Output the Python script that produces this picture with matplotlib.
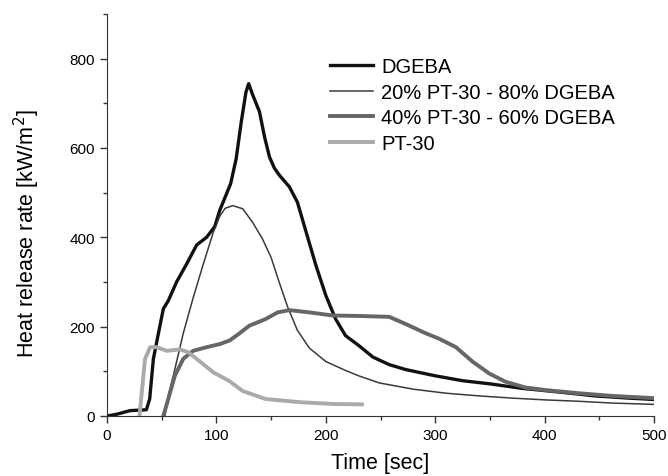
import matplotlib.pyplot as plt
from matplotlib.ticker import MultipleLocator

plt.rcParams['font.family'] = ['Liberation Sans', 'DejaVu Sans']

# DGEBA
t_dgeba = [0, 9, 21, 36, 39, 42.4, 47, 51.5, 56, 63.6, 72.7, 82, 91, 98.5, 103,
           108, 113, 118, 122.7, 127, 129.5, 133, 139.4, 144, 148.5, 153, 157.6,
           166.7, 174, 182, 191, 200, 209, 218, 230, 243, 258, 273, 300, 325,
           350, 379, 416, 446, 477, 500]
hrr_dgeba = [0, 4, 12, 14, 38, 128, 185, 240, 258, 300, 340, 383, 400, 424, 460,
             490, 520, 575, 658, 725, 744, 720, 681, 625, 580, 555, 539,
             513, 479, 412, 337, 270, 217, 180, 158, 132, 115, 104, 90, 79,
             72, 62, 53, 45, 40, 37]

# 20% PT-30 - 80% DGEBA
t_20 = [53, 56, 60.6, 69.7, 78.8, 88, 97, 103, 108, 115, 124, 133, 142, 150,
        157.6, 165, 174, 185, 200, 218, 230, 249, 280, 310, 340, 370.6, 401,
        431, 461.5, 500]
hrr_20 = [0, 45, 90, 185, 265, 340, 410, 447, 465, 471, 464, 434, 397, 355,
          298, 245, 192, 152, 122, 102, 90, 74, 60, 51, 45, 40, 36,
          33, 29, 26]

# 40% PT-30 - 60% DGEBA
t_40 = [51.5, 56, 62, 69.7, 78.8, 91, 103, 112, 120, 130, 145, 156, 166.7, 185,
        206, 230, 258, 273, 291.5, 303.6, 319, 334, 349.5, 364, 382, 401, 431,
        461.5, 500]
hrr_40 = [0, 38, 90, 128, 146, 154, 161, 169, 183, 202, 217, 232, 237, 232,
          225, 224, 222, 206, 185, 173, 154, 122, 95, 77, 64, 58, 51,
          45, 40]

# PT-30
t_pt30 = [29.7, 31.8, 34.8, 39.4, 45.5, 54.5, 66.7, 74, 85, 97, 112, 124, 145,
          176, 206, 233]
hrr_pt30 = [0, 53, 128, 154, 154, 146, 149, 143, 122, 98, 78, 56, 38,
            31, 27, 26]

fig = plt.figure(figsize=(6.68, 4.77), dpi=100)
ax = fig.add_axes([107 / 668, 1 - 417 / 477, 547 / 668, 402 / 477])

ax.plot(t_dgeba, hrr_dgeba, color='#111111', lw=2.4, label='DGEBA')
ax.plot(t_20, hrr_20, color='#3a3a3a', lw=1.1, label='20% PT-30 - 80% DGEBA')
ax.plot(t_40, hrr_40, color='#666666', lw=2.8, label='40% PT-30 - 60% DGEBA')
ax.plot(t_pt30, hrr_pt30, color='#aaaaaa', lw=2.8, label='PT-30')

ax.set_xlim(0, 500)
ax.set_ylim(0, 900)
ax.xaxis.set_major_locator(MultipleLocator(100))
ax.xaxis.set_minor_locator(MultipleLocator(50))
ax.yaxis.set_minor_locator(MultipleLocator(100))
ax.set_yticks([0, 200, 400, 600, 800])
ax.tick_params(which='major', direction='out', length=5, width=1, labelsize=11, color='#333333')
ax.tick_params(which='minor', direction='out', length=3, width=1, color='#333333')
for s in ['top', 'right']:
    ax.spines[s].set_visible(False)
for s in ['left', 'bottom']:
    ax.spines[s].set_color('#333333')

ax.set_xlabel('Time [sec]', fontsize=15.5, va='center')
ax.xaxis.set_label_coords(0.5, (417 - 464) / 402)
ax.set_ylabel('Heat release rate [kW/m$^2$]', fontsize=15.5, va='center')
ax.yaxis.set_label_coords((27 - 107) / 547, (417 - 234) / 402)

fig.legend(loc='upper left', bbox_to_anchor=(330 / 668, 1 - 58 / 477), frameon=False,
           fontsize=14.5, handlelength=2.15, handletextpad=0.4, labelspacing=0.33,
           borderpad=0, borderaxespad=0)

fig.savefig('out.png', dpi=100)
